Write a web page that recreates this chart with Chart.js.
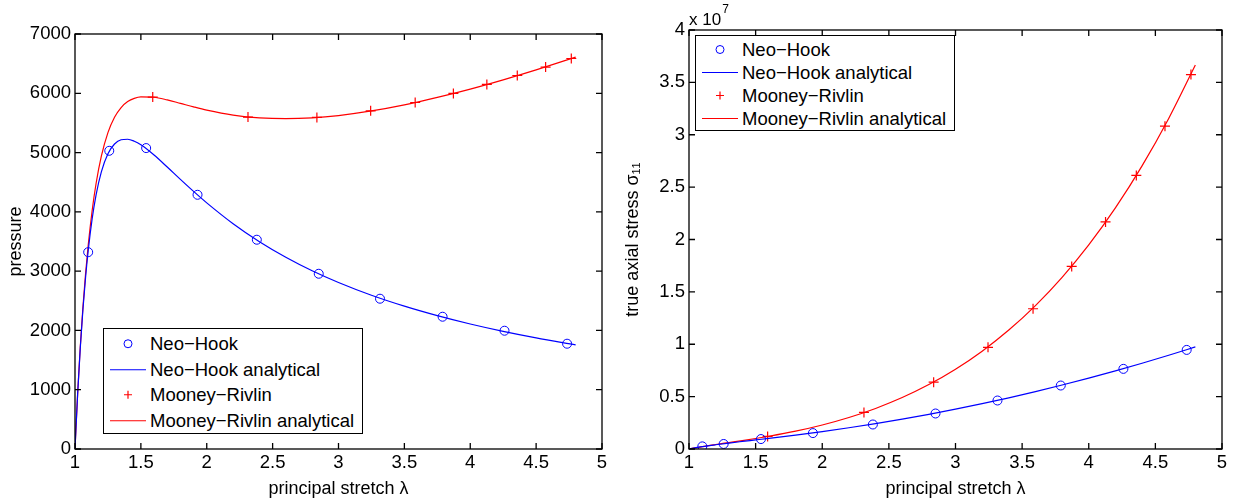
<!DOCTYPE html>
<html>
<head>
<meta charset="utf-8">
<script src="https://cdn.jsdelivr.net/npm/chart.js@4.4.0/dist/chart.umd.min.js"></script>
<style>
  body { margin: 0; width: 1237px; height: 500px; background: #fff; position: relative; overflow: hidden;
         font-family: "Liberation Sans", Arial, Helvetica, sans-serif; }
  .panel { position: absolute; top: 0; width: 620px; height: 500px; }
  .legend { position: absolute; background: #fff; border: 1.5px solid #000; box-sizing: border-box; font-size: 18.5px; color: #000; }
  .legend .row { position: relative; white-space: nowrap; }
  .legend svg { position: absolute; left: 6px; top: 0; }
</style>
</head>
<body>
<div class="panel" style="left:0"><canvas id="graficoPressao" width="620" height="500"></canvas></div>
<div class="panel" style="left:617px"><canvas id="graficoTensao" width="620" height="500"></canvas></div>
<div class="legend" id="legendaPressao" style="left:103px; top:328px; width:260px; height:106px; padding-top:2px"></div>
<div class="legend" id="legendaTensao" style="left:695px; top:35px; width:260px; height:96px; padding-top:2px"></div>
<script>
// ---- tick labels ----
const xTicks = [1, 1.5, 2, 2.5, 3, 3.5, 4, 4.5, 5];
const pressureTicks = [0, 1000, 2000, 3000, 4000, 5000, 6000, 7000];
const stressTicks = [0, 0.5, 1, 1.5, 2, 2.5, 3, 3.5, 4];   // x 10^7

// ---- simulated points (markers) ----
const lamNeo = [1.1, 1.26, 1.54, 1.93, 2.38, 2.85, 3.315, 3.79, 4.26, 4.735];
const neoPressure = [3320, 5030, 5076, 4288, 3530, 2956, 2535, 2231, 1995, 1776];
const neoStress = [0.025, 0.048, 0.095, 0.152, 0.234, 0.339, 0.463, 0.606, 0.765, 0.946];

const lamMooney = [1.59, 2.313, 2.836, 3.244, 3.582, 3.872, 4.126, 4.357, 4.572, 4.767];
const mooneyPressure = [5936, 5599, 5592, 5705, 5845, 5997, 6149, 6300, 6442, 6587];
const mooneyStress = [0.12, 0.349, 0.638, 0.971, 1.339, 1.743, 2.168, 2.612, 3.082, 3.574];

// ---- analytical curves ----
const lamCurveP = [1, 1.02, 1.04, 1.06, 1.08, 1.1, 1.13, 1.16, 1.2, 1.25, 1.3, 1.35, 1.4, 1.45, 1.5,
                   1.6, 1.7, 1.8, 1.9, 2.0, 2.2, 2.4, 2.6, 2.8, 3.0, 3.25, 3.5, 3.75, 4.0, 4.25, 4.5, 4.8];
const neoPressureCurve = [0, 926, 1701, 2348, 2888, 3340, 3879, 4287, 4675, 4979, 5144, 5216, 5225, 5191, 5130,
                          4958, 4756, 4548, 4345, 4152, 3800, 3496, 3234, 3006, 2808, 2593, 2409, 2249, 2108, 1984, 1874, 1757];
const mooneyPressureCurve = [0, 932, 1720, 2387, 2953, 3432, 4019, 4478, 4939, 5336, 5596, 5760, 5860, 5915, 5940,
                             5933, 5888, 5830, 5771, 5717, 5633, 5585, 5571, 5585, 5624, 5702, 5805, 5930, 6071, 6227, 6395, 6609];

const lamCurveS = [1, 1.1, 1.2, 1.3, 1.4, 1.5, 1.6, 1.8, 2.0, 2.2, 2.4, 2.6, 2.8, 3.0, 3.2, 3.4, 3.6, 3.8, 4.0, 4.2, 4.4, 4.6, 4.8];
const neoStressCurve = [0, 0.0223, 0.0405, 0.0567, 0.0719, 0.0868, 0.1018, 0.1330, 0.1666, 0.2029, 0.2424, 0.2850,
                        0.3309, 0.3802, 0.4328, 0.4887, 0.5480, 0.6106, 0.6766, 0.7460, 0.8188, 0.8950, 0.9745];
const mooneyStressCurve = [0, 0.0229, 0.0428, 0.0617, 0.0806, 0.1005, 0.1219, 0.1705, 0.2294, 0.3008, 0.3872, 0.4910,
                           0.6149, 0.7616, 0.9341, 1.1355, 1.3694, 1.6391, 1.9485, 2.3016, 2.7025, 3.1556, 3.6654];

const AZUL = '#0000ff';
const VERMELHO = '#ff0000';
const FONTE = '"Liberation Sans", Arial, Helvetica, sans-serif';
Chart.defaults.font.family = FONTE;
Chart.defaults.color = '#000';

const pts = (xs, ys) => xs.map((x, i) => ({ x: x, y: ys[i] }));

// box around the plot with inward ticks on all four sides (MATLAB style)
const eixosMatlab = {
  id: 'eixosMatlab',
  afterDatasetsDraw(chart, args, opts) {
    const { ctx, chartArea: a, scales: { x, y } } = chart;
    ctx.save();
    ctx.strokeStyle = '#000';
    ctx.lineWidth = 1.3;
    ctx.strokeRect(a.left, a.top, a.right - a.left, a.bottom - a.top);
    const t = 6;
    ctx.beginPath();
    x.ticks.forEach(tk => {
      const px = x.getPixelForValue(tk.value);
      ctx.moveTo(px, a.bottom); ctx.lineTo(px, a.bottom - t);
      ctx.moveTo(px, a.top); ctx.lineTo(px, a.top + t);
    });
    y.ticks.forEach(tk => {
      const py = y.getPixelForValue(tk.value);
      ctx.moveTo(a.left, py); ctx.lineTo(a.left + t, py);
      ctx.moveTo(a.right, py); ctx.lineTo(a.right - t, py);
    });
    ctx.stroke();
    if (opts.expoente) {
      ctx.fillStyle = '#000';
      ctx.textBaseline = 'alphabetic';
      ctx.font = '17px ' + FONTE;
      ctx.fillText('x 10', a.left, a.top - 5);
      const w = ctx.measureText('x 10').width;
      ctx.font = '12px ' + FONTE;
      ctx.fillText(opts.expoente, a.left + w + 1, a.top - 17);
    }
    ctx.restore();
  }
};

function criarGrafico(id, cfg) {
  const ctx = document.getElementById(id);
  return new Chart(ctx, {
    type: 'scatter',
    data: {
      datasets: [
        { label: 'Neo−Hook', data: pts(lamNeo, cfg.neoY), showLine: false, pointStyle: 'circle',
          pointRadius: 4.5, pointBorderWidth: 1, borderColor: AZUL, backgroundColor: 'rgba(0,0,0,0)' },
        { label: 'Neo−Hook analytical', data: pts(cfg.lam, cfg.neoCurve), showLine: true, borderColor: AZUL,
          borderWidth: 1.2, pointRadius: 0, cubicInterpolationMode: 'monotone' },
        { label: 'Mooney−Rivlin', data: pts(lamMooney, cfg.mrY), showLine: false, pointStyle: 'cross',
          pointRadius: 5, pointBorderWidth: 1.2, borderColor: VERMELHO, backgroundColor: VERMELHO },
        { label: 'Mooney−Rivlin analytical', data: pts(cfg.lam, cfg.mrCurve), showLine: true, borderColor: VERMELHO,
          borderWidth: 1.2, pointRadius: 0, cubicInterpolationMode: 'monotone' }
      ]
    },
    options: {
      responsive: false,
      animation: false,
      events: [],
      layout: { padding: { top: cfg.top, right: cfg.right, left: 0, bottom: 0 } },
      plugins: { legend: { display: false }, tooltip: { enabled: false }, eixosMatlab: { expoente: cfg.expoente } },
      scales: {
        x: {
          type: 'linear', min: 1, max: 5,
          afterBuildTicks: s => { s.ticks = xTicks.map(v => ({ value: v })); },
          ticks: { font: { size: 18.5 }, padding: 3, maxRotation: 0, callback: v => String(v) },
          grid: { display: false, drawTicks: false },
          border: { display: false },
          title: { display: true, text: 'principal stretch λ', font: { size: 18 }, padding: { top: 1, bottom: 0 } },
          afterFit: s => { s.height = 51; }
        },
        y: {
          type: 'linear', min: cfg.yTicks[0], max: cfg.yTicks[cfg.yTicks.length - 1],
          afterBuildTicks: s => { s.ticks = cfg.yTicks.map(v => ({ value: v })); },
          ticks: { font: { size: 18.5 }, padding: 4, callback: v => String(v) },
          grid: { display: false, drawTicks: false },
          border: { display: false },
          title: { display: true, text: cfg.yTitle, font: { size: 18 }, padding: { top: 5, bottom: 0 } },
          afterFit: s => { s.width = cfg.yWidth; }
        }
      }
    },
    plugins: [eixosMatlab]
  });
}

criarGrafico('graficoPressao', {
  neoY: neoPressure, mrY: mooneyPressure, lam: lamCurveP,
  neoCurve: neoPressureCurve, mrCurve: mooneyPressureCurve,
  yTicks: pressureTicks, yTitle: 'pressure', yWidth: 75, top: 34, right: 18
});

criarGrafico('graficoTensao', {
  neoY: neoStress, mrY: mooneyStress, lam: lamCurveS,
  neoCurve: neoStressCurve, mrCurve: mooneyStressCurve,
  yTicks: stressTicks, yTitle: 'true axial stress σ₁₁', yWidth: 72, top: 30, right: 15, expoente: '7'
});

// MATLAB-like legends
const itensLegenda = [
  { texto: 'Neo−Hook', tipo: 'circulo', cor: AZUL },
  { texto: 'Neo−Hook analytical', tipo: 'linha', cor: AZUL },
  { texto: 'Mooney−Rivlin', tipo: 'cruz', cor: VERMELHO },
  { texto: 'Mooney−Rivlin analytical', tipo: 'linha', cor: VERMELHO }
];

function montarLegenda(id, alturaLinha) {
  const el = document.getElementById(id);
  itensLegenda.forEach(item => {
    const row = document.createElement('div');
    row.className = 'row';
    row.style.height = alturaLinha + 'px';
    row.style.lineHeight = alturaLinha + 'px';
    row.style.paddingLeft = '46px';
    const c = alturaLinha / 2;
    let simbolo = '';
    if (item.tipo === 'circulo') simbolo = `<circle cx="18" cy="${c}" r="4" fill="none" stroke="${item.cor}" stroke-width="1"/>`;
    if (item.tipo === 'linha') simbolo = `<line x1="0" y1="${c}" x2="36" y2="${c}" stroke="${item.cor}" stroke-width="1.2"/>`;
    if (item.tipo === 'cruz') simbolo = `<path d="M14 ${c} H22 M18 ${c - 4} V${c + 4}" stroke="${item.cor}" stroke-width="1.2"/>`;
    row.innerHTML = `<svg width="36" height="${alturaLinha}">${simbolo}</svg>${item.texto}`;
    el.appendChild(row);
  });
}

montarLegenda('legendaPressao', 25.5);
montarLegenda('legendaTensao', 23);
</script>
</body>
</html>
